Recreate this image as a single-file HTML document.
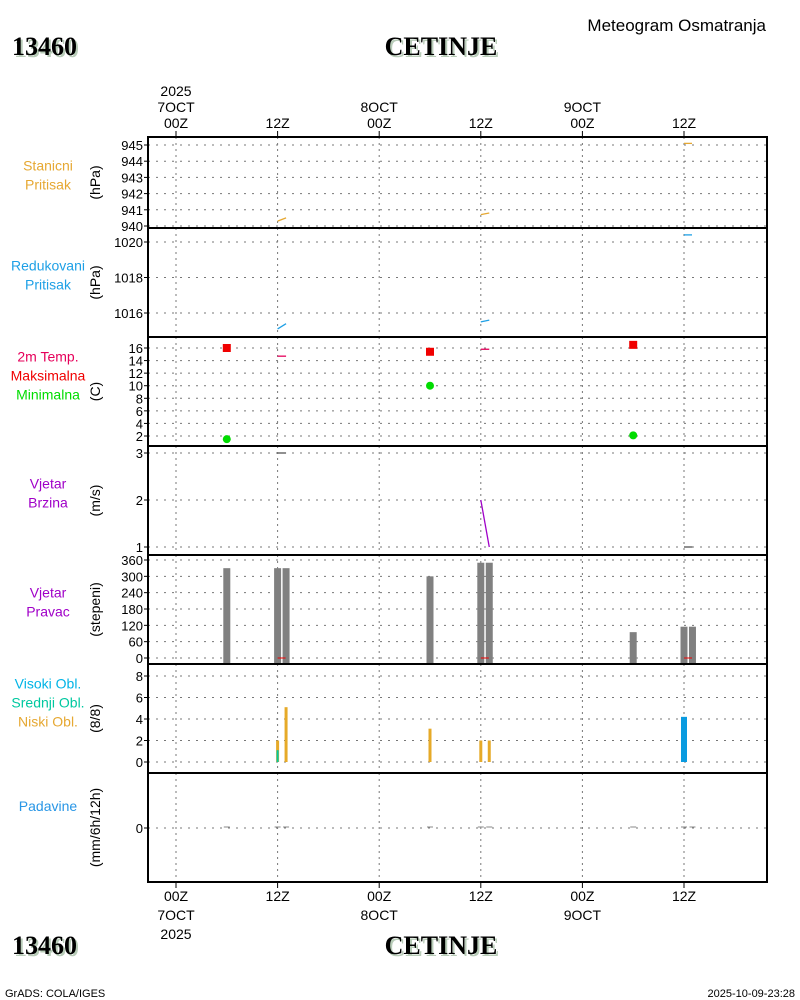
<!DOCTYPE html>
<html><head><meta charset="utf-8"><style>
html,body{margin:0;padding:0;background:#fff;width:800px;height:1000px;overflow:hidden}
svg{display:block;font-family:"Liberation Sans",sans-serif}
</style></head><body>
<svg id="c" width="800" height="1000" xmlns="http://www.w3.org/2000/svg"></svg>
<script>
// ---- data ----
const xTickHours=[0,12,24,36,48,60];
const xTickLabels=["00Z","12Z","00Z","12Z","00Z","12Z"];
const dayLabels=["7OCT","8OCT","9OCT"];
const stnHours=[12,13,36,37,60];
const stnPres=[940.3,940.5,940.7,940.8,945.1];
const slpHours=[12,13,36,37,60];
const slpPres=[1015.1,1015.4,1015.5,1015.6,1020.4];
const tmaxHours=[6,30,54];
const tmaxVals=[16,15.4,16.5];
const tminHours=[6,30,54];
const tminVals=[1.5,10,2.1];
const t2mHours=[12,13,36,37];
const t2mVals=[14.7,14.7,15.8,15.8];
const windHours=[12,13,36,37,60,61];
const windSpd=[3.0,3.0,2.0,1.0,1.0,1.0];
const dirHours=[6,12,13,30,36,37,54,60,61];
const dirVals=[330,330,330,300,350,350,95,115,115];
const lowHours=[12,13,30,36,37];
const lowVals=[2,5.1,3.1,2,2];
const midHours=[12];
const midVals=[1.1];
const highHours=[60];
const highVals=[4.2];
const precipHours=[6,12,13,30,36,37,54,60,61];
const precipVals=[0,0,0,0,0,0,0,0,0];

const svg=document.getElementById('c');
const NS="http://www.w3.org/2000/svg";
function el(t,a,p){const e=document.createElementNS(NS,t);for(const k in a)e.setAttribute(k,a[k]);(p||svg).appendChild(e);return e;}
function txt(x,y,s,a){const e=el('text',Object.assign({x:x,y:y,'font-size':13},a||{}));e.textContent=s;return e;}
const L=148,R=767;
const xs=h=>176+h*101.6/12;
const panels=[
 {y0:137,y1:228,v0:940,v1:945,p0:226,p1:145,ticks:[940,941,942,943,944,945],unit:"(hPa)",lab:[["Stanicni","#e6a832"],["Pritisak","#e6a832"]],name:"station-pressure"},
 {y0:228,y1:337,v0:1016,v1:1020,p0:313,p1:242,ticks:[1016,1018,1020],unit:"(hPa)",lab:[["Redukovani","#1ea0e6"],["Pritisak","#1ea0e6"]],name:"reduced-pressure"},
 {y0:337,y1:446,v0:2,v1:16,p0:436,p1:348,ticks:[2,4,6,8,10,12,14,16],unit:"(C)",lab:[["2m Temp.","#e6005a"],["Maksimalna","#f00000"],["Minimalna","#00dc00"]],name:"temperature"},
 {y0:446,y1:555,v0:1,v1:3,p0:547,p1:453,ticks:[1,2,3],unit:"(m/s)",lab:[["Vjetar","#a000c8"],["Brzina","#a000c8"]],name:"wind-speed"},
 {y0:555,y1:664,v0:0,v1:360,p0:658,p1:560,ticks:[0,60,120,180,240,300,360],unit:"(stepeni)",lab:[["Vjetar","#a000c8"],["Pravac","#a000c8"]],name:"wind-direction"},
 {y0:664,y1:773,v0:0,v1:8,p0:762,p1:676,ticks:[0,2,4,6,8],unit:"(8/8)",lab:[["Visoki Obl.","#00b4e6"],["Srednji Obl.","#00c8a0"],["Niski Obl.","#e6a832"]],name:"clouds"},
 {y0:773,y1:882,v0:0,v1:1,p0:828,p1:800,ticks:[0],unit:"(mm/6h/12h)",lab:[["Padavine","#2896e6"]],name:"precipitation"}
];
panels.forEach(p=>{p.ys=v=>p.p0+(v-p.v0)*(p.p1-p.p0)/(p.v1-p.v0);});
panels.forEach((p,i)=>{
 const g=el('g',{});
 
 
 xTickHours.forEach(h=>el('line',{x1:xs(h),x2:xs(h),y1:p.y0,y2:p.y1,stroke:'#777','stroke-dasharray':'2,4'},g));
 p.ticks.forEach(t=>{const y=p.ys(t);
  el('line',{x1:L,x2:R,y1:y,y2:y,stroke:'#777','stroke-dasharray':'2,6'},g);
  el('line',{x1:L-4,x2:L,y1:y,y2:y,stroke:'#000'},g);
  const tl=txt(143,y+5,String(t),{'text-anchor':'end','font-size':13});
  
  
 });
 const u=txt(0,0,p.unit,{'text-anchor':'middle',transform:`translate(100,${(p.y0+p.y1)/2}) rotate(-90)`,'font-size':14});
 
 
 const n=p.lab.length,cy=(i===6?806:(p.y0+p.y1)/2-8-(n-2)*9);
 p.lab.forEach((l,k)=>{const t=txt(48,cy-(n-1)*9+k*19+5,l[0],{'text-anchor':'middle',fill:l[1],'font-size':14});
  
  });
});
xTickHours.forEach(h=>{el('line',{x1:xs(h),x2:xs(h),y1:131,y2:137,stroke:'#000'});el('line',{x1:xs(h),x2:xs(h),y1:882,y2:888,stroke:'#000'});});
function line(p,hs,vs,col,name,flatCol){for(let i=0;i<hs.length;i++){
 if(i+1<hs.length&&hs[i+1]-hs[i]===1){const c=(flatCol&&vs[i]===vs[i+1])?flatCol:col;
  const l=el('line',{x1:xs(hs[i]),x2:xs(hs[i+1]),y1:p.ys(vs[i]),y2:p.ys(vs[i+1]),stroke:c,'stroke-width':1.3});
  }
 else if(i===0||hs[i]-hs[i-1]!==1){const l=el('line',{x1:xs(hs[i]),x2:xs(hs[i])+8,y1:p.ys(vs[i]),y2:p.ys(vs[i]),stroke:flatCol||col,'stroke-width':1.3});
  }}}
line(panels[0],stnHours,stnPres,'#e6a832','station-pressure-line');
line(panels[1],slpHours,slpPres,'#1ea0e6','reduced-pressure-line');
line(panels[2],t2mHours,t2mVals,'#e6005a','temp-2m-line');
line(panels[3],windHours,windSpd,'#a000c8','wind-speed-line','#555');
tmaxHours.forEach((h,i)=>{const r=el('rect',{x:xs(h)-4,y:panels[2].ys(tmaxVals[i])-4,width:8,height:8,fill:'#f00000'});
 });
tminHours.forEach((h,i)=>{const r=el('circle',{cx:xs(h),cy:panels[2].ys(tminVals[i]),r:4,fill:'#00dc00'});
 });
dirHours.forEach((h,i)=>{const p=panels[4],y=p.ys(dirVals[i]);const r=el('rect',{x:xs(h)-3.5,y:y,width:7,height:663-y,fill:'#808080'});
 });
[12,36,60].forEach(h=>el('line',{x1:xs(h),x2:xs(h)+8,y1:658,y2:658,stroke:'#f00000','stroke-width':1}));
function bars(hs,vs,col,w,name){const p=panels[5];hs.forEach((h,i)=>{const y=p.ys(vs[i]);const r=el('rect',{x:xs(h)-w/2,y:y,width:w,height:p.ys(0)-y,fill:col});
 });}
bars(lowHours,lowVals,'#e6aa28',3,'low-cloud-bar');
bars(midHours,midVals,'#00c8a0',2,'mid-cloud-bar');
bars(highHours,highVals,'#0a9be0',6,'high-cloud-bar');
precipHours.forEach((h,i)=>{const p=panels[6];const y=p.ys(precipVals[i]);const l=el('line',{x1:xs(h)-3,x2:xs(h)+3,y1:y-1,y2:y-1,stroke:'#888'});
 });
panels.forEach(p=>el('line',{x1:L,x2:R,y1:p.y0,y2:p.y0,stroke:'#000','stroke-width':2}));
el('rect',{x:L,y:137,width:R-L,height:745,fill:'none',stroke:'#000','stroke-width':2});
xTickHours.forEach((h,i)=>{txt(xs(h),128,xTickLabels[i],{'text-anchor':'middle','font-size':14});txt(xs(h),901,xTickLabels[i],{'text-anchor':'middle','font-size':14});});
[0,1,2].forEach(d=>{txt(xs(24*d),112,dayLabels[d],{'text-anchor':'middle','font-size':14});txt(xs(24*d),920,dayLabels[d],{'text-anchor':'middle','font-size':14});});
txt(xs(0),96,"2025",{'text-anchor':'middle','font-size':14});txt(xs(0),939,"2025",{'text-anchor':'middle','font-size':14});
function title(x,y,s,anchor,name){const a={'font-family':'Liberation Serif,serif','font-weight':'bold','font-size':26,'text-anchor':anchor};
 txt(x+2,y+2,s,Object.assign({fill:'#b8ccb8'},a));const t=txt(x,y,s,a);}
title(12,55,"13460","start","station-id-top");title(441,55,"CETINJE","middle","station-name-top");
title(12,954,"13460","start","station-id-bottom");title(441,954,"CETINJE","middle","station-name-bottom");
const st=txt(766,31,"Meteogram Osmatranja",{'text-anchor':'end','font-size':17});
txt(5,997,"GrADS: COLA/IGES",{'font-size':11});
txt(795,997,"2025-10-09-23:28",{'font-size':11,'text-anchor':'end'});
</script>
</body></html>
